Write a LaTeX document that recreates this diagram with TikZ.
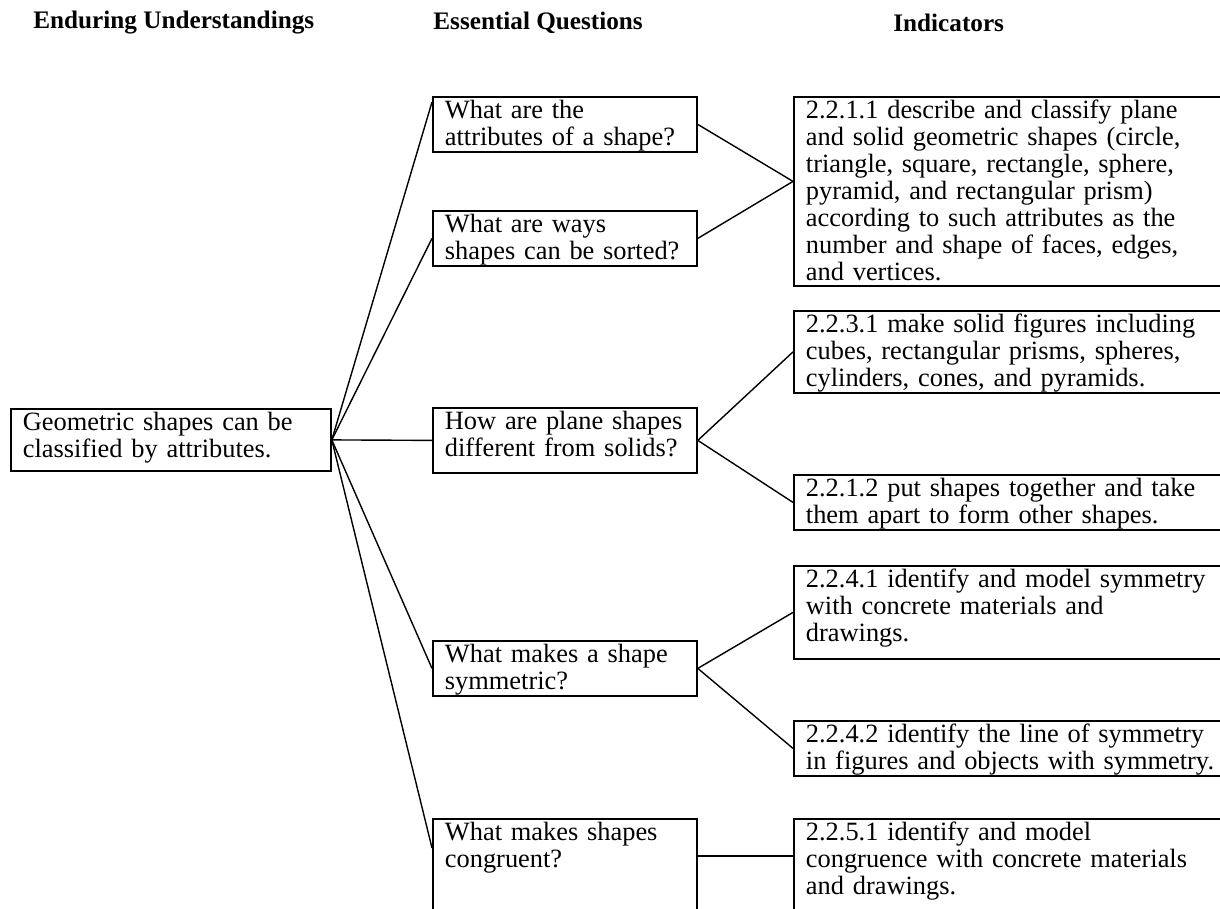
\documentclass[tikz,border=0pt]{standalone}
\usepackage{fontspec}
\setmainfont{Liberation Serif}
\usetikzlibrary{positioning}
\begin{document}
\begin{tikzpicture}[
  x=0.5pt, y=-0.5pt, font=\fontsize{13.2pt}{13.5pt}\selectfont,
  hd/.style={font=\fontsize{12.6pt}{13.5pt}\selectfont\bfseries,anchor=west,inner sep=0pt},
  bx/.style={draw,line width=0.9pt,anchor=north west,align=left,inner xsep=6pt,inner ysep=0.5pt,text height=10.5pt},
  eb/.style={bx,text width=148pt},
  qb/.style={bx,text width=120pt},
  ib/.style={bx,text width=232pt},
  l/.style={line width=0.7pt}]
\useasboundingbox (0,0) rectangle (1220,909);
\clip (0,0) rectangle (1220,909);
\node[hd] (h1) at (33,23) {Enduring Understandings};
\node[hd] (h2) at (433,23) {Essential Questions};
\node[hd] (h3) at (893,23) {Indicators};
\node[eb,text depth=19.5pt] (eu) at (10,408) {Geometric shapes can be\\classified by attributes.};
\node[qb,text depth=16pt] (q1) at (432,96) {What are the\\attributes of a shape?};
\node[qb,text depth=16pt] (q2) at (432,210) {What are ways\\shapes can be sorted?};
\node[qb,text depth=21pt] (q3) at (432,407) {How are plane shapes\\different from solids?};
\node[qb,text depth=16pt] (q4) at (432,640) {What makes a shape\\symmetric?};
\node[qb,text depth=60pt] (q5) at (432,818) {What makes shapes\\congruent?};
\node[ib,text depth=83pt] (i1) at (793,96) {2.2.1.1 describe and classify plane\\and solid geometric shapes (circle,\\triangle, square, rectangle, sphere,\\pyramid, and rectangular prism)\\according to such attributes as the\\number and shape of faces, edges,\\and vertices.};
\node[ib,text depth=29.5pt] (i2) at (793,310) {2.2.3.1 make solid figures including\\cubes, rectangular prisms, spheres,\\cylinders, cones, and pyramids.};
\node[ib,text depth=16pt] (i3) at (793,474) {2.2.1.2 put shapes together and take\\them apart to form other shapes.};
\node[ib,text depth=35pt] (i4) at (793,565) {2.2.4.1 identify and model symmetry\\with concrete materials and\\drawings.};
\node[ib,text depth=16pt] (i5) at (793,720) {2.2.4.2 identify the line of symmetry\\in figures and objects with symmetry.};
\node[ib,text depth=60pt] (i6) at (793,818) {2.2.5.1 identify and model\\congruence with concrete materials\\and drawings.};
\draw[l](eu.east)--([yshift=-3pt]q1.north west);\draw[l](eu.east)--(q2.west);\draw[l](eu.east)--(q3.west);
\draw[l](eu.east)--(q4.west);\draw[l](eu.east)--([yshift=-15pt]q5.north west);
\draw[l](q1.east)--([yshift=5pt]i1.west);\draw[l](q2.east)--([yshift=5pt]i1.west);
\draw[l](q3.east)--(i2.west);\draw[l](q3.east)--(i3.west);
\draw[l](q4.east)--(i4.west);\draw[l](q4.east)--(i5.west);
\draw[l]([yshift=-19pt]q5.north east)--([yshift=-19pt]i6.north west);
\end{tikzpicture}
\end{document}
